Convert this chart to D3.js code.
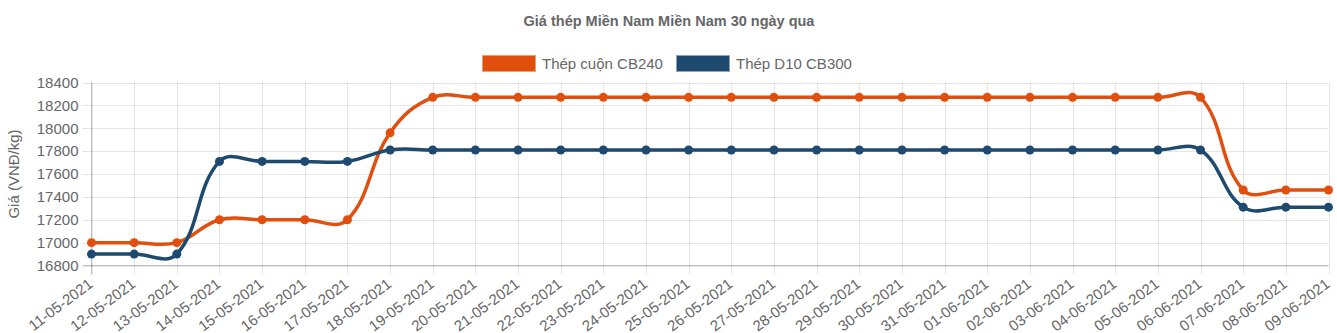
<!DOCTYPE html>
<html>
<head>
<meta charset="utf-8">
<script src="https://cdn.jsdelivr.net/npm/d3@7"></script>
<style>
  html, body { margin: 0; padding: 0; background: #fff; }
  svg { display: block; font-family: "Liberation Sans", Arial, sans-serif; }
</style>
</head>
<body>
<svg id="chart" width="1337" height="333"></svg>
<script>
// Daily steel prices, southern region (VND/kg)
const dates = [
  "11-05-2021","12-05-2021","13-05-2021","14-05-2021","15-05-2021","16-05-2021",
  "17-05-2021","18-05-2021","19-05-2021","20-05-2021","21-05-2021","22-05-2021",
  "23-05-2021","24-05-2021","25-05-2021","26-05-2021","27-05-2021","28-05-2021",
  "29-05-2021","30-05-2021","31-05-2021","01-06-2021","02-06-2021","03-06-2021",
  "04-06-2021","05-06-2021","06-06-2021","07-06-2021","08-06-2021","09-06-2021"
];
const coilCB240 = [
  17000,17000,17000,17200,17200,17200,17200,17960,18270,18270,18270,18270,
  18270,18270,18270,18270,18270,18270,18270,18270,18270,18270,18270,18270,
  18270,18270,18270,17460,17460,17460
];
const rebarD10CB300 = [
  16900,16900,16900,17710,17710,17710,17710,17810,17810,17810,17810,17810,
  17810,17810,17810,17810,17810,17810,17810,17810,17810,17810,17810,17810,
  17810,17810,17810,17310,17310,17310
];
const yTicks = [16800,17000,17200,17400,17600,17800,18000,18200,18400];
const seriesNames = ["Thép cuộn CB240", "Thép D10 CB300"];
const titleText = "Giá thép Miền Nam Miền Nam 30 ngày qua";
const yAxisTitle = "Giá (VNĐ/kg)";

const colors = ["#e04f0e", "#1e4a70"];
const series = [
  { name: seriesNames[0], values: coilCB240, color: colors[0] },
  { name: seriesNames[1], values: rebarD10CB300, color: colors[1] }
];

const svg = d3.select("#chart");
const plotLeft = 91.5, plotRight = 1328.5, plotTop = 82.5, plotBottom = 265.5;

const x = d3.scalePoint().domain(dates).range([plotLeft, plotRight]);
const y = d3.scaleLinear().domain([16800, 18400]).range([plotBottom, plotTop]);

// Title
svg.append("text")
  .attr("x", 669).attr("y", 25.5)
  .attr("text-anchor", "middle")
  .attr("font-size", 14.5).attr("font-weight", "bold")
  .attr("fill", "#666")
  .text(titleText);

// Legend
const legendX = [482, 676];
const legendStroke = ["#f0a070", "#8aa4bb"];
series.forEach((s, i) => {
  const g = svg.append("g").attr("transform", `translate(${legendX[i]},55)`);
  g.append("rect").attr("x", 0.5).attr("y", 0.5).attr("width", 53).attr("height", 16)
    .attr("fill", s.color).attr("stroke", legendStroke[i]).attr("stroke-width", 1);
  g.append("text").attr("x", 60).attr("y", 13.5)
    .attr("font-size", 15).attr("fill", "#666").text(s.name);
});

// Grid
const grid = svg.append("g");
grid.selectAll("line.h").data(yTicks).join("line")
  .attr("x1", plotLeft - 9).attr("x2", plotRight)
  .attr("y1", d => Math.round(y(d)) + 0.5).attr("y2", d => Math.round(y(d)) + 0.5)
  .attr("stroke", "rgba(0,0,0,0.1)").attr("stroke-width", 1);
grid.selectAll("line.v").data(dates).join("line")
  .attr("x1", d => Math.round(x(d)) + 0.5).attr("x2", d => Math.round(x(d)) + 0.5)
  .attr("y1", plotTop).attr("y2", plotBottom + 9)
  .attr("stroke", "rgba(0,0,0,0.1)").attr("stroke-width", 1);
// Axis lines
svg.append("line").attr("x1", plotLeft).attr("x2", plotLeft).attr("y1", plotTop).attr("y2", plotBottom + 9)
  .attr("stroke", "rgba(0,0,0,0.25)");
svg.append("line").attr("x1", plotLeft - 9).attr("x2", plotRight).attr("y1", plotBottom).attr("y2", plotBottom)
  .attr("stroke", "rgba(0,0,0,0.25)");

// Y tick labels
svg.selectAll("text.ytick").data(yTicks).join("text")
  .attr("class", "ytick")
  .attr("x", plotLeft - 13).attr("y", d => y(d))
  .attr("dy", "0.35em").attr("text-anchor", "end")
  .attr("font-size", 15).attr("fill", "#666")
  .text(d => d);

// X tick labels (rotated)
svg.selectAll("text.xtick").data(dates).join("text")
  .attr("class", "xtick")
  .attr("transform", d => `translate(${x(d) - 4},${plotBottom + 12}) rotate(-37)`)
  .attr("text-anchor", "end").attr("dy", "0.7em")
  .attr("font-size", 15).attr("fill", "#666")
  .text(d => d);

// Y axis title
svg.append("text")
  .attr("transform", `translate(19,${(plotTop + plotBottom) / 2}) rotate(-90)`)
  .attr("text-anchor", "middle")
  .attr("font-size", 15).attr("fill", "#666")
  .text(yAxisTitle);

// Tension-based cubic spline through points, control points scaled by neighbour distances
function splinePath(pts, t) {
  const cps = pts.map((p, i) => {
    const prev = pts[i - 1] || p, next = pts[i + 1] || p;
    const d01 = Math.hypot(p[0] - prev[0], p[1] - prev[1]);
    const d12 = Math.hypot(next[0] - p[0], next[1] - p[1]);
    let s01 = d01 / (d01 + d12), s12 = d12 / (d01 + d12);
    if (!isFinite(s01)) s01 = 0;
    if (!isFinite(s12)) s12 = 0;
    const fa = t * s01, fb = t * s12;
    return {
      prev: [p[0] - fa * (next[0] - prev[0]), Math.min(plotBottom, Math.max(plotTop, p[1] - fa * (next[1] - prev[1])))],
      next: [p[0] + fb * (next[0] - prev[0]), Math.min(plotBottom, Math.max(plotTop, p[1] + fb * (next[1] - prev[1])))]
    };
  });
  const path = d3.path();
  path.moveTo(pts[0][0], pts[0][1]);
  for (let i = 1; i < pts.length; i++) {
    path.bezierCurveTo(cps[i - 1].next[0], cps[i - 1].next[1], cps[i].prev[0], cps[i].prev[1], pts[i][0], pts[i][1]);
  }
  return path.toString();
}

series.forEach(s => {
  const pts = s.values.map((v, i) => [x(dates[i]), y(v)]);
  svg.append("path")
    .attr("d", splinePath(pts, 0.4))
    .attr("fill", "none").attr("stroke", s.color).attr("stroke-width", 3.5);
  svg.append("g").selectAll("circle").data(s.values).join("circle")
    .attr("cx", (v, i) => x(dates[i])).attr("cy", v => y(v))
    .attr("r", 4.5).attr("fill", s.color);
});
</script>
</body>
</html>
